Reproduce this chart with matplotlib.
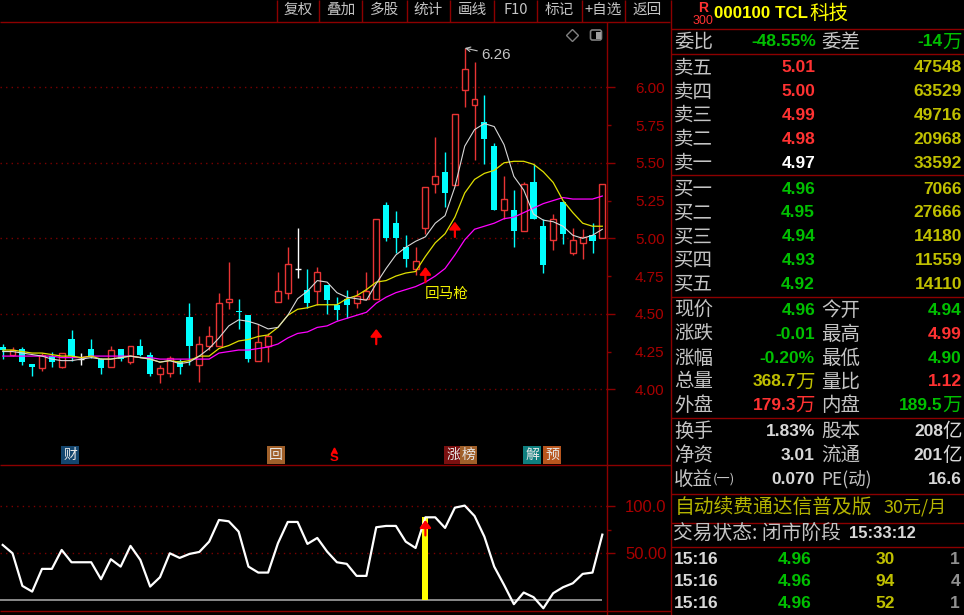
import matplotlib
matplotlib.use('Agg')
import matplotlib.pyplot as plt
from matplotlib.patches import FancyBboxPatch

W, H = 964, 615
BG = '#000000'
FRAME = '#8c0000'
TICK = '#8c0000'
RED = '#ff3232'
CANDLE_RED = '#e83434'
CYAN = '#00ffff'
GREEN = '#00c000'
OLIVE = '#c0c000'
YELLOW = '#ffff00'
GREY = '#c4c4c4'
CJK = ['Noto Sans CJK SC', 'DejaVu Sans']
NUM = ['Liberation Sans', 'DejaVu Sans']

# K line data
opens = [4.28, 4.23, 4.27, 4.17, 4.14, 4.22, 4.15, 4.33, 4.20, 4.27, 4.20, 4.15, 4.27, 4.18, 4.29, 4.23,
         4.10, 4.11, 4.19, 4.48, 4.16, 4.29, 4.29, 4.58, 4.52, 4.49, 4.19, 4.29, 4.58, 4.64, 4.80, 4.66,
         4.65, 4.69, 4.56, 4.60, 4.57, 4.60, 4.60, 5.22, 5.10, 4.94, 4.80, 5.07, 5.36, 5.44, 5.355, 5.98,
         5.88, 5.77, 5.61, 5.19, 5.19, 5.05, 5.37, 5.08, 4.99, 5.24, 4.90, 4.97, 5.02, 5.00]
closes = [4.26, 4.26, 4.18, 4.15, 4.23, 4.18, 4.24, 4.22, 4.20, 4.22, 4.14, 4.26, 4.20, 4.29, 4.23, 4.10,
          4.14, 4.21, 4.15, 4.29, 4.30, 4.35, 4.57, 4.60, 4.51, 4.20, 4.31, 4.35, 4.65, 4.83, 4.80, 4.57,
          4.78, 4.59, 4.525, 4.56, 4.62, 4.65, 5.13, 5.00, 5.00, 4.86, 4.85, 5.34, 5.41, 5.30, 5.82, 6.12,
          5.92, 5.66, 5.19, 5.26, 5.05, 5.36, 5.13, 4.82, 5.13, 5.03, 4.99, 5.01, 4.98, 5.36]
highs = [4.30, 4.28, 4.28, 4.17, 4.24, 4.25, 4.24, 4.39, 4.24, 4.33, 4.21, 4.29, 4.27, 4.29, 4.33, 4.25,
         4.16, 4.22, 4.20, 4.57, 4.35, 4.42, 4.64, 4.84, 4.60, 4.49, 4.43, 4.37, 4.78, 4.94, 5.07, 4.80,
         4.81, 4.69, 4.61, 4.66, 4.66, 4.78, 5.13, 5.24, 5.18, 5.02, 4.94, 5.34, 5.67, 5.57, 5.82, 6.26,
         6.17, 5.95, 5.63, 5.41, 5.32, 5.37, 5.49, 5.13, 5.16, 5.25, 5.07, 5.06, 5.10, 5.36]
lows = [4.20, 4.22, 4.16, 4.09, 4.12, 4.15, 4.14, 4.19, 4.16, 4.21, 4.10, 4.15, 4.19, 4.17, 4.22, 4.09,
        4.04, 4.08, 4.10, 4.16, 4.05, 4.26, 4.29, 4.53, 4.40, 4.18, 4.19, 4.18, 4.58, 4.60, 4.74, 4.54,
        4.56, 4.50, 4.46, 4.47, 4.54, 4.60, 4.60, 4.98, 4.90, 4.81, 4.76, 5.03, 5.30, 5.21, 5.355, 5.87,
        5.52, 5.49, 5.19, 5.13, 4.94, 5.05, 5.13, 4.77, 4.92, 4.96, 4.89, 4.86, 4.90, 5.00]

ma_white = [4.25, 4.25, 4.24, 4.23, 4.22, 4.20, 4.19, 4.19, 4.20, 4.21, 4.20, 4.20, 4.21, 4.22, 4.21, 4.20,
            4.18, 4.19, 4.17, 4.18, 4.22, 4.27, 4.34, 4.42, 4.46, 4.45, 4.43, 4.40, 4.41, 4.49, 4.60, 4.65,
            4.72, 4.71, 4.64, 4.61, 4.60, 4.59, 4.70, 4.80, 4.89, 4.94, 4.98, 5.01, 5.10, 5.15, 5.34, 5.61,
            5.72, 5.76, 5.74, 5.62, 5.41, 5.32, 5.16, 5.12, 5.11, 5.08, 5.02, 5.00, 5.02, 5.06]
ma_yellow = [4.26, 4.26, 4.25, 4.24, 4.24, 4.23, 4.22, 4.22, 4.21, 4.22, 4.20, 4.20, 4.21, 4.22, 4.21, 4.20,
             4.18, 4.19, 4.18, 4.19, 4.22, 4.22, 4.27, 4.29, 4.32, 4.33, 4.35, 4.36, 4.41, 4.49, 4.53, 4.54,
             4.56, 4.56, 4.56, 4.60, 4.62, 4.66, 4.71, 4.72, 4.75, 4.77, 4.78, 4.88, 4.97, 5.03, 5.14, 5.30,
             5.39, 5.43, 5.45, 5.50, 5.51, 5.51, 5.49, 5.44, 5.37, 5.25, 5.17, 5.10, 5.08, 5.08]
ma_magenta = [4.22, 4.22, 4.22, 4.22, 4.22, 4.22, 4.21, 4.21, 4.21, 4.22, 4.22, 4.22, 4.22, 4.22, 4.21, 4.21,
              4.20, 4.20, 4.20, 4.20, 4.20, 4.20, 4.24, 4.25, 4.26, 4.26, 4.27, 4.28, 4.30, 4.34, 4.37, 4.38,
              4.41, 4.42, 4.45, 4.47, 4.49, 4.51, 4.57, 4.61, 4.64, 4.66, 4.68, 4.71, 4.75, 4.80, 4.89, 4.99,
              5.06, 5.08, 5.10, 5.13, 5.14, 5.17, 5.20, 5.23, 5.25, 5.27, 5.26, 5.26, 5.26, 5.28]

arrow_idx = [38, 43, 46]
arrow_tip = [4.40, 4.81, 5.11]
high_idx = 47
high_val = 6.26

osc = [58.8, 50.0, 15.5, 9.5, 33.5, 33.5, 53.5, 40.5, 40.5, 40.5, 22.6, 43.7, 35.9, 57.8, 43.0, 14.8,
       24.7, 50.0, 45.1, 49.3, 51.4, 62.3, 85.2, 83.8, 72.9, 35.9, 29.6, 29.6, 60.6, 83.1, 83.1, 59.9,
       66.2, 51.8, 40.5, 38.8, 26.1, 26.1, 77.5, 78.9, 78.9, 62.3, 55.6, 88.0, 88.0, 76.8, 98.2, 100.4,
       89.4, 67.6, 35.9, 16.6, -3.8, 8.5, 3.6, -8.1, 7.8, 14.1, 18.3, 28.2, 29.6, 69.7]
osc_base = 1
osc_bar_idx = 43
osc_bar_top = 88
osc_arrow_tip = 85

price_ticks = [4.0, 4.5, 5.0, 5.5, 6.0]
price_minor = [4.25, 4.75, 5.25, 5.75]
osc_ticks = [50, 100]
osc_minor = [75]

toolbar = ['复权', '叠加', '多股', '统计', '画线', 'F10', '标记', '+自选', '返回']
toolbar_edges = [277, 319, 362, 407, 450, 494, 537, 582, 625, 670]

ask_labels = ['卖五', '卖四', '卖三', '卖二', '卖一']
ask_prices = ['5.01', '5.00', '4.99', '4.98', '4.97']
ask_vols = ['47548', '63529', '49716', '20968', '33592']
ask_colors = [RED, RED, RED, RED, '#ffffff']
bid_labels = ['买一', '买二', '买三', '买四', '买五']
bid_prices = ['4.96', '4.95', '4.94', '4.93', '4.92']
bid_vols = ['7066', '27666', '14180', '11559', '14110']

quote_left = ['现价', '涨跌', '涨幅', '总量', '外盘']
quote_left_vals = ['4.96', '-0.01', '-0.20%', '368.7万', '179.3万']
quote_left_cols = [GREEN, GREEN, GREEN, OLIVE, RED]
quote_right = ['今开', '最高', '最低', '量比', '内盘']
quote_right_vals = ['4.94', '4.99', '4.90', '1.12', '189.5万']
quote_right_cols = [GREEN, RED, GREEN, RED, GREEN]

base_left = ['换手', '净资', '收益']
base_left_vals = ['1.83%', '3.01', '0.070']
base_right = ['股本', '流通', 'PE(动)']
base_right_vals = ['208亿', '201亿', '16.6']

tick_times = ['15:16', '15:16', '15:16']
tick_prices = ['4.96', '4.96', '4.96']
tick_vols = ['30', '94', '52']
tick_counts = ['1', '4', '1']

plt.rcParams['font.family'] = CJK
fig = plt.figure(figsize=(W / 100, H / 100), dpi=100, facecolor=BG)


def box(x0, y0, x1, y1):
    return [x0 / W, 1 - y1 / H, (x1 - x0) / W, (y1 - y0) / H]


# pixel space for the frame and the quote panel
ov = fig.add_axes([0, 0, 1, 1], zorder=5)
ov.set_xlim(0, W)
ov.set_ylim(H, 0)
ov.axis('off')
ov.patch.set_alpha(0)

ax = fig.add_axes(box(0, 22, 607, 465), facecolor=BG)
ax2 = fig.add_axes(box(0, 465, 607, 610.7), facecolor=BG)
xlim = (-0.275, 61.475)
ax.set_xlim(*xlim)
ax.set_ylim(3.4987, 6.4325)
ax2.set_xlim(*xlim)
ax2.set_ylim(-10.7, 143.3)


def style_axis(a, major, minor, major_pad, minor_pad, fmt, size):
    for s in a.spines.values():
        s.set_visible(False)
    a.set_xticks([])
    a.yaxis.tick_right()
    a.set_yticks(major)
    a.set_yticks(minor, minor=True)
    a.tick_params(axis='y', which='major', length=5.8, width=1, color=TICK, labelcolor='#a80000',
                  labelsize=size, pad=major_pad)
    a.tick_params(axis='y', which='minor', length=3, width=1, color=TICK, labelcolor='#a80000',
                  labelsize=size, pad=minor_pad)
    a.yaxis.set_major_formatter(fmt)
    for lab in a.get_yticklabels(which='both'):
        lab.set_fontfamily(NUM)
    a.hlines(major, xlim[0], xlim[1], colors='#7a0000', linestyles=(0, (1, 3)), linewidth=1, zorder=0)


style_axis(ax, price_ticks, price_minor, 14.4, 17.2, lambda v, _: '%.2f' % v, 11)
ax.yaxis.set_minor_formatter(lambda v, _: '%.2f' % v)
ax.tick_params(axis='y', which='minor', labelright=True)
for lab in ax.get_yticklabels(which='minor'):
    lab.set_fontfamily(NUM)
style_axis(ax2, osc_ticks, osc_minor, 7.2, 7.2, lambda v, _: '100.0' if v == 100 else '50.00', 12)

# candles
idx = list(range(len(closes)))
for i in idx:
    o, c, h, l = opens[i], closes[i], highs[i], lows[i]
    if c > o:
        col = CANDLE_RED
    elif c < o:
        col = CYAN
    else:
        col = '#ffffff'
    ax.vlines(i, l, h, color=col, linewidth=1.0, zorder=2)
    if c > o:
        ax.bar(i, c - o, bottom=o, width=0.6, facecolor=BG, edgecolor=col, linewidth=1.0, zorder=3)
    elif c < o:
        ax.bar(i, o - c, bottom=c, width=0.62, color=col, zorder=3)
    else:
        ax.hlines(c, i - 0.3, i + 0.3, color=col, linewidth=1.0, zorder=3)

ax.plot(idx, ma_magenta, color='#ff00ff', linewidth=0.9, zorder=4)
ax.plot(idx, ma_yellow, color='#e0e000', linewidth=0.9, zorder=5)
ax.plot(idx, ma_white, color='#d8d8d8', linewidth=0.8, zorder=6)


def up_arrow(a, x, y):
    a.annotate('', xy=(x, y), xytext=(0, -11), textcoords='offset points', zorder=8,
               arrowprops=dict(arrowstyle='-|>,head_width=0.28,head_length=0.36', color='#ff0000', lw=1.6,
                               mutation_scale=12, shrinkA=0, shrinkB=0))


for i, p in zip(arrow_idx, arrow_tip):
    up_arrow(ax, i, p)

ax.annotate('6.26', xy=(high_idx, high_val), xytext=(12, -5), textcoords='offset points', color=GREY,
            fontsize=11, family=NUM, va='center', zorder=8,
            arrowprops=dict(arrowstyle='->,head_width=0.15,head_length=0.3', color=GREY, lw=0.8,
                            shrinkA=1, shrinkB=0))

# oscillator
ax2.bar(osc_bar_idx, osc_bar_top - osc_base, bottom=osc_base, width=0.62, color=YELLOW, zorder=2)
ax2.hlines(osc_base, xlim[0], 61, color='#a0a0a0', linewidth=1.2, zorder=1)
ax2.plot(idx, osc, color='#ffffff', linewidth=1.6, zorder=3)
up_arrow(ax2, osc_bar_idx, osc_arrow_tip)

# frame
ov.hlines([22], 0, 670, color=FRAME, linewidth=1)
ov.hlines([464.5, 610.7], 0, 671, color=FRAME, linewidth=1)
ov.vlines(607, 22, H, color=FRAME, linewidth=1)
ov.vlines(671, 0, H, color=FRAME, linewidth=1)
ov.hlines([29.3, 54.3, 175, 297, 418, 494, 523, 546.7], 671, W, color=FRAME, linewidth=1)
ov.vlines(toolbar_edges[:-1], 0, 22, color=FRAME, linewidth=1)
for name, x0, x1 in zip(toolbar, toolbar_edges[:-1], toolbar_edges[1:]):
    ov.text((x0 + x1) / 2, 10, name, color=GREY, fontsize=10.5, ha='center', va='center')

# chart icons
ov.plot(572, 35, marker='D', markersize=6.5, markerfacecolor='none', markeredgecolor='#808080', markeredgewidth=1)
ov.add_patch(FancyBboxPatch((590.5, 30), 11, 10, boxstyle='round,pad=0,rounding_size=2',
                            facecolor='none', edgecolor='#808080', linewidth=1.2))
ov.fill_between([596, 600.5], 31.5, 38.5, color='#a0a0a0', linewidth=0)
ov.text(446.5, 294, '回马枪', color='#f0f000', fontsize=10.5, ha='center', va='center')

# event tags
for x, s, bg in [(70, '财', '#14466e'), (276, '回', '#a0602a'), (453, '涨', '#7a1010'),
                 (468.5, '榜', '#a0602a'), (532, '解', '#0f7f7f'), (552, '预', '#b8561e')]:
    ov.text(x, 455, s, color='#e8e8e8', fontsize=10, ha='center', va='center',
            bbox=dict(facecolor=bg, edgecolor='none', pad=1.2))
ov.text(334, 458, 'S', color='#ff0000', fontsize=9.5, family=NUM, weight='bold', ha='center', va='center')
ov.plot(334, 450, marker='^', markersize=3.5, color='#ff0000')


def label(x, y, s, color=GREY, size=14):
    ov.text(x, y, s, color=color, fontsize=size, ha='left', va='center')


def value(x, y, s, color, size=12.5):
    # digits bold, a trailing unit sign in thin CJK
    if s[-1] in '万亿':
        ov.text(x, y, s[-1], color=color, fontsize=14, ha='right', va='center')
        x -= 19
        s = s[:-1]
    ov.text(x, y, s, color=color, fontsize=size, family=NUM, weight='bold', ha='right', va='center')


# quote header
ov.text(703, 8, 'R', color=RED, fontsize=10, family=NUM, weight='bold', ha='center', va='center')
ov.text(703, 20.5, '300', color=RED, fontsize=9, family=NUM, ha='center', va='center')
ov.text(714, 13, '000100 TCL', color=YELLOW, fontsize=12.2, family=NUM, weight='bold', ha='left', va='center')
ov.text(809, 13, '科技', color=YELLOW, fontsize=14, ha='left', va='center')

label(674, 42, '委比')
value(816, 42, '-48.55%', GREEN)
label(821, 42, '委差')
value(962, 42, '-14万', GREEN)

for k in range(5):
    y = 68 + k * 23.8
    label(674, y, ask_labels[k])
    value(815, y, ask_prices[k], ask_colors[k])
    value(962, y, ask_vols[k], OLIVE)
    y = 189 + k * 23.8
    label(674, y, bid_labels[k])
    value(815, y, bid_prices[k], GREEN)
    value(962, y, bid_vols[k], OLIVE)

for k in range(5):
    y = 310.7 + k * 23.75
    label(674, y, quote_left[k])
    value(815, y, quote_left_vals[k], quote_left_cols[k])
    label(821, y, quote_right[k])
    value(962, y, quote_right_vals[k], quote_right_cols[k])

for k in range(3):
    y = 431.7 + k * 23.7
    label(674, y, base_left[k])
    value(815, y, base_left_vals[k], '#d8d8d8')
    ov.text(821, y, base_right[k], color=GREY, fontsize=14 if k < 2 else 12.5, ha='left', va='center')
    value(962, y, base_right_vals[k], '#d8d8d8')
ov.text(713, 479, '(一)', color=GREY, fontsize=9.5, ha='left', va='center')

label(675, 507, '自动续费通达信普及版', '#b4b400', 14.2)
ov.text(884, 507, '30元/月', color='#b4b400', fontsize=13, ha='left', va='center')
label(673, 534, '交易状态: 闭市阶段', GREY, 14.2)
ov.text(849, 534, '15:33:12', color='#d8d8d8', fontsize=12, family=NUM, weight='bold', ha='left', va='center')

for k in range(3):
    y = 559 + k * 22.5
    ov.text(674, y, tick_times[k], color='#d8d8d8', fontsize=12.5, family=NUM, weight='bold', ha='left', va='center')
    value(812, y, tick_prices[k], GREEN)
    value(895, y, tick_vols[k], OLIVE)
    value(960, y, tick_counts[k], '#909090')

fig.savefig('out.png', dpi=100, facecolor=BG)
